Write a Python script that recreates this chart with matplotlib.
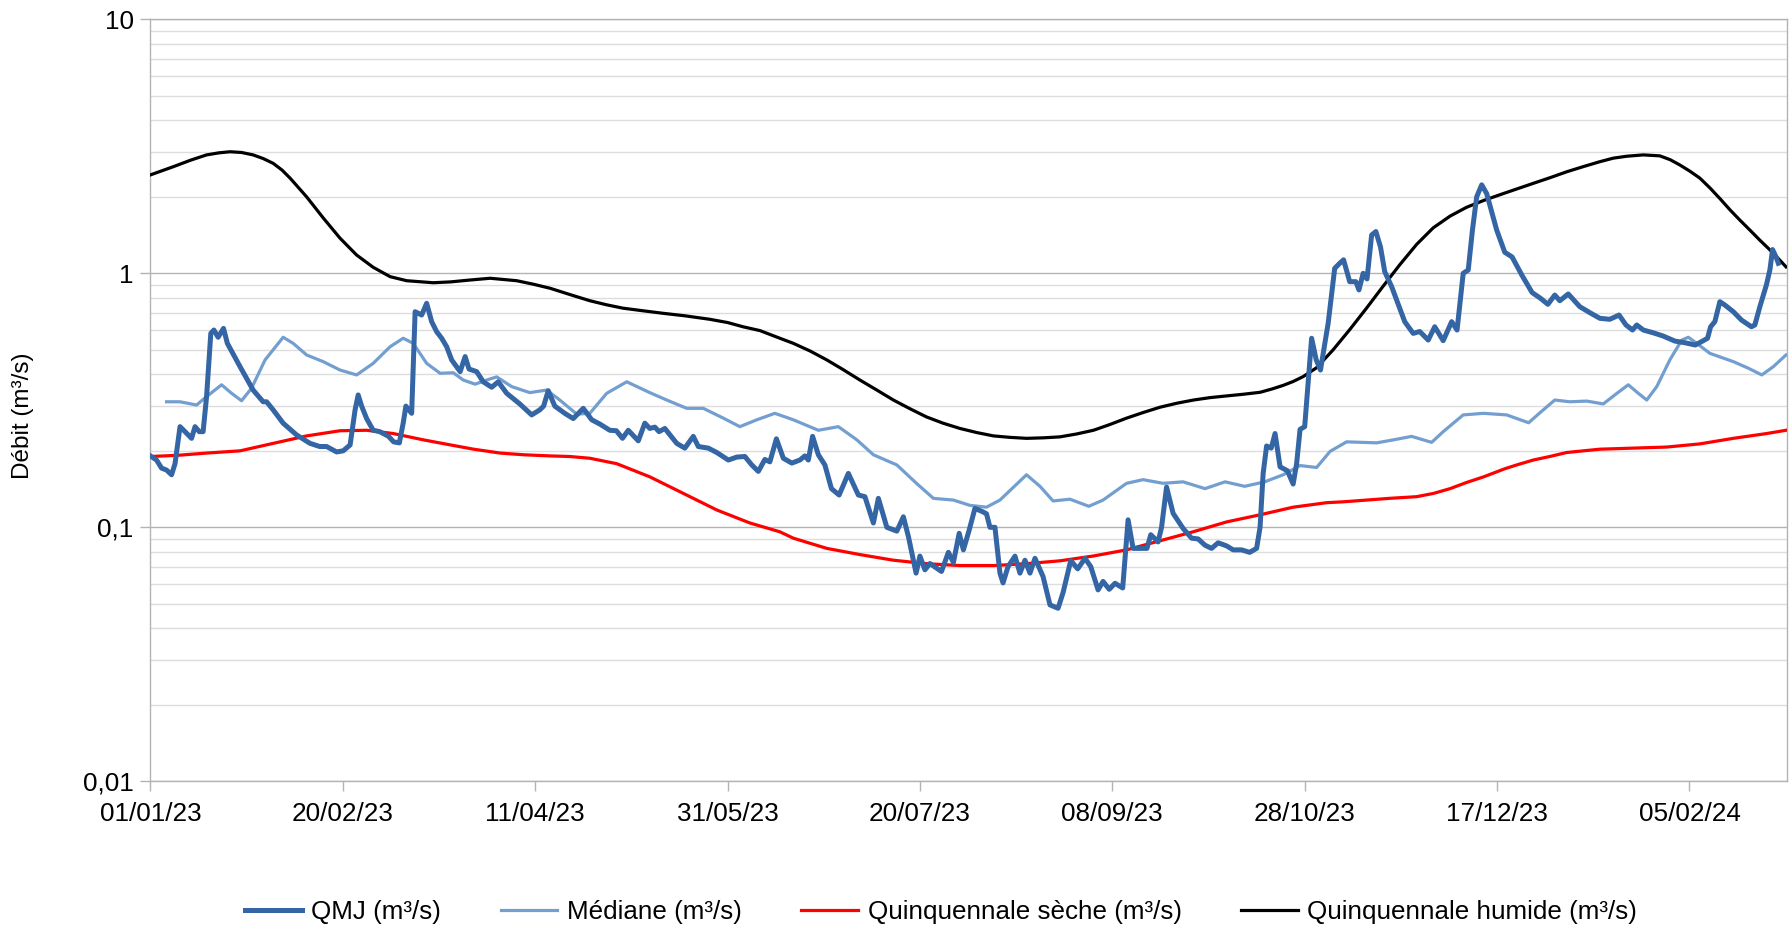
import datetime as dt
import numpy as np
import matplotlib
matplotlib.use("Agg")
import matplotlib.pyplot as plt
import matplotlib.dates as mdates
from matplotlib.ticker import FixedLocator, FuncFormatter, LogLocator, NullFormatter

plt.rcParams['font.family'] = ['Liberation Sans', 'DejaVu Sans']

START = dt.datetime(2023, 1, 1)

# ---- data (days since 01/01/23, values in m3/s) ----
qmj_days = [0.0, 1.6, 2.9, 4.2, 5.5, 6.4, 7.7, 9.0, 10.7, 11.6, 12.7, 13.7, 14.6, 15.7, 16.5, 17.6, 19.0, 20.0,
            23.3, 26.7, 29.3, 30.2, 31.9, 34.5, 38.0, 41.5, 44.0, 45.8, 48.4, 50.1, 51.9, 53.2, 54.0, 54.9,
            56.2, 57.9, 59.6, 61.9, 63.2, 64.7, 65.7, 66.4, 67.9, 68.8, 70.5, 71.8, 73.1, 74.4, 75.7, 77.0,
            78.3, 80.5, 81.8, 82.8, 84.8, 86.5, 88.7, 90.4, 92.6, 96.0, 99.1, 101.2, 102.2, 103.4, 105.1,
            107.7, 109.9, 112.5, 114.7, 116.8, 119.4, 121.1, 122.7, 124.2, 126.8, 128.5, 129.8, 131.1, 132.2,
            133.7, 136.8, 138.9, 141.1, 142.4, 145.0, 147.2, 150.2, 152.4, 154.5, 156.3, 158.0, 159.7, 161.0,
            162.7, 164.5, 166.7, 168.8, 170.1, 171.0, 172.1, 173.6, 175.3, 177.0, 179.0, 181.4, 184.0, 185.7,
            187.9, 189.2, 191.4, 194.0, 195.7, 197.0, 199.0, 200.0, 201.3, 202.6, 205.6, 207.4, 208.7, 210.2,
            211.3, 212.8, 214.3, 216.4, 217.3, 218.2, 219.5, 220.8, 221.6, 222.9, 224.7, 226.0, 227.3, 228.6,
            229.9, 232.0, 233.8, 235.9, 237.2, 239.2, 241.0, 242.9, 244.4, 246.3, 247.6, 249.2, 250.7, 252.7,
            254.1, 255.4, 257.6, 259.0, 260.0, 261.9, 262.8, 264.1, 265.8, 268.4, 270.6, 272.3, 274.1, 275.8,
            277.5, 279.7, 281.4, 283.6, 285.7, 287.5, 288.4, 289.2, 290.1, 291.3, 292.3, 293.6, 295.5, 297.0,
            297.9, 298.8, 300.0, 301.8, 303.0, 304.1, 306.1, 307.8, 309.1, 310.1, 311.7, 313.3, 314.1, 315.2,
            316.2, 317.4, 318.5, 319.7, 320.8, 322.6, 326.0, 328.2, 329.9, 332.1, 333.8, 336.0, 338.2, 339.6,
            341.2, 342.5, 343.6, 344.7, 346.0, 347.3, 349.9, 352.0, 353.9, 356.5, 359.1, 361.3, 363.2, 365.0,
            366.3, 368.5, 371.5, 374.1, 376.7, 379.3, 381.7, 383.5, 385.2, 386.3, 388.0, 390.6, 393.2, 396.2,
            398.8, 401.5, 403.6, 404.7, 405.5, 406.6, 407.9, 409.2, 411.4, 413.5, 416.1, 417.0, 418.3, 420.0,
            420.9, 421.6, 422.5, 423.1]
qmj_vals = [0.191, 0.184, 0.171, 0.168, 0.161, 0.178, 0.249, 0.238, 0.224, 0.249, 0.238, 0.238, 0.327, 0.58, 0.598,
            0.56, 0.607, 0.53, 0.429, 0.347, 0.312, 0.312, 0.29, 0.257, 0.231, 0.214, 0.208, 0.208, 0.198, 0.200,
            0.211, 0.29, 0.332, 0.30, 0.268, 0.241, 0.238, 0.228, 0.217, 0.215, 0.257, 0.30, 0.281, 0.706, 0.685,
            0.762, 0.645, 0.589, 0.555, 0.514, 0.456, 0.41, 0.47, 0.42, 0.41, 0.374, 0.356, 0.374, 0.337, 0.306,
            0.277, 0.29, 0.30, 0.345, 0.30, 0.281, 0.268, 0.294, 0.265, 0.255, 0.241, 0.240, 0.224, 0.241, 0.219,
            0.257, 0.245, 0.248, 0.238, 0.245, 0.214, 0.205, 0.228, 0.208, 0.205, 0.197, 0.184, 0.189, 0.190,
            0.176, 0.166, 0.185, 0.181, 0.223, 0.187, 0.179, 0.184, 0.191, 0.184, 0.228, 0.193, 0.176, 0.142,
            0.134, 0.163, 0.134, 0.132, 0.104, 0.130, 0.100, 0.0966, 0.110, 0.092, 0.066, 0.077, 0.068, 0.072,
            0.067, 0.0797, 0.0727, 0.0947, 0.0815, 0.0975, 0.1187, 0.115, 0.113, 0.100, 0.100, 0.066, 0.0604,
            0.070, 0.077, 0.066, 0.0742, 0.066, 0.0755, 0.064, 0.0495, 0.048, 0.0553, 0.0740, 0.0686, 0.0755,
            0.070, 0.0567, 0.0612, 0.057, 0.0602, 0.0577, 0.107, 0.0826, 0.0826, 0.0826, 0.0935, 0.0876, 0.100,
            0.144, 0.1135, 0.099, 0.0906, 0.090, 0.085, 0.0826, 0.0869, 0.0845, 0.0815, 0.0815, 0.0797, 0.0826,
            0.100, 0.163, 0.209, 0.205, 0.234, 0.173, 0.167, 0.148, 0.178, 0.243, 0.249, 0.555, 0.456, 0.416,
            0.636, 1.046, 1.095, 1.13, 0.927, 0.927, 0.86, 1.00, 0.95, 1.415, 1.46, 1.27, 1.015, 0.886, 0.645,
            0.58, 0.59, 0.546, 0.616, 0.543, 0.645, 0.598, 1.00, 1.03, 1.48, 2.00, 2.23, 2.06, 1.48, 1.21, 1.16,
            0.98, 0.84, 0.797, 0.755, 0.821, 0.78, 0.829, 0.739, 0.70, 0.665, 0.659, 0.685, 0.626, 0.598, 0.626,
            0.598, 0.583, 0.566, 0.541, 0.533, 0.522, 0.543, 0.555, 0.616, 0.645, 0.773, 0.75, 0.706, 0.655,
            0.616, 0.626, 0.739, 0.90, 1.03, 1.24, 1.16, 1.095]

med_days = [4.2, 7.7, 12.0, 14.6, 18.5, 21.1, 23.7, 26.3, 29.8, 34.5, 37.1, 40.6, 44.9, 49.3, 53.6, 57.9, 62.3,
            65.7, 68.3, 71.8, 75.3, 78.7, 81.3, 84.4, 87.4, 90.0, 93.9, 98.6, 103.0, 106.4, 110.8, 114.2, 118.6,
            123.8, 129.8, 134.2, 139.4, 143.7, 148.9, 153.2, 157.6, 162.3, 167.1, 173.6, 178.8, 183.6, 187.9,
            194.0, 199.1, 203.5, 208.7, 213.0, 217.3, 220.8, 227.7, 231.2, 234.6, 239.0, 243.9, 247.6, 253.7,
            258.0, 263.2, 268.4, 274.1, 279.3, 284.4, 289.6, 294.4, 298.8, 303.1, 306.6, 310.9, 318.7, 323.1,
            327.8, 333.0, 336.0, 341.2, 346.5, 352.5, 358.2, 361.2, 365.0, 368.9, 373.3, 377.6, 380.6, 384.1,
            386.7, 388.9, 391.5, 394.9, 398.0, 399.7, 401.9, 405.3, 411.4, 415.3, 418.8, 421.8, 425.1]
med_vals = [0.312, 0.312, 0.303, 0.327, 0.364, 0.337, 0.315, 0.353, 0.456, 0.56, 0.53, 0.477, 0.449, 0.416, 0.398,
            0.442, 0.514, 0.555, 0.53, 0.442, 0.404, 0.406, 0.38, 0.366, 0.38, 0.391, 0.358, 0.339, 0.347, 0.317,
            0.279, 0.281, 0.337, 0.374, 0.339, 0.317, 0.294, 0.294, 0.269, 0.249, 0.265, 0.281, 0.265, 0.241,
            0.249, 0.221, 0.193, 0.176, 0.149, 0.130, 0.128, 0.122, 0.120, 0.128, 0.161, 0.145, 0.127, 0.129,
            0.121, 0.128, 0.149, 0.154, 0.149, 0.151, 0.142, 0.151, 0.145, 0.151, 0.161, 0.175, 0.172, 0.199,
            0.217, 0.215, 0.221, 0.228, 0.216, 0.238, 0.277, 0.281, 0.277, 0.258, 0.283, 0.317, 0.312, 0.314,
            0.306, 0.332, 0.364, 0.337, 0.317, 0.358, 0.456, 0.546, 0.56, 0.53, 0.484, 0.449, 0.423, 0.398,
            0.429, 0.477]

seche_days = [0.0, 7.0, 14.6, 23.3, 31.9, 40.6, 49.3, 56.2, 63.1, 70.9, 78.0, 84.0, 90.9, 97.0, 103.9, 109.0,
              114.2, 121.2, 129.8, 138.5, 147.2, 155.8, 163.6, 167.1, 175.8, 184.4, 193.1, 201.7, 210.4, 219.1,
              227.7, 236.4, 245.1, 253.7, 262.4, 271.1, 279.7, 288.4, 297.0, 305.7, 310.0, 316.1, 322.0, 329.1,
              333.5, 337.8, 342.0, 346.5, 352.0, 355.1, 359.4, 363.7, 368.1, 376.7, 385.4, 394.1, 402.7, 411.4,
              420.1, 425.1]
seche_vals = [0.190, 0.192, 0.196, 0.200, 0.214, 0.229, 0.240, 0.241, 0.234, 0.221, 0.211, 0.203, 0.196, 0.193,
              0.191, 0.190, 0.187, 0.178, 0.158, 0.136, 0.117, 0.104, 0.096, 0.0906, 0.0826, 0.0781, 0.0742,
              0.0719, 0.0707, 0.0707, 0.0719, 0.0738, 0.0771, 0.0815, 0.0885, 0.0961, 0.105, 0.112, 0.120,
              0.125, 0.126, 0.128, 0.130, 0.132, 0.136, 0.142, 0.150, 0.158, 0.170, 0.176, 0.184, 0.190, 0.197,
              0.203, 0.205, 0.207, 0.213, 0.224, 0.234, 0.241]

humide_days = [0.0, 6.0, 10.5, 14.6, 17.8, 20.7, 23.7, 26.7, 29.3, 31.9, 34.2, 36.3, 40.6, 45.0, 49.3, 53.6,
               57.9, 62.3, 66.6, 73.5, 78.0, 83.1, 88.3, 95.2, 99.5, 103.9, 109.0, 114.2, 118.5, 122.8, 128.0,
               133.2, 139.0, 145.4, 150.0, 154.0, 158.4, 163.6, 167.1, 171.5, 175.8, 180.0, 184.4, 188.8, 193.1,
               197.4, 201.7, 206.0, 210.4, 214.8, 219.1, 223.4, 227.7, 232.0, 236.4, 240.7, 245.1, 249.4, 253.7,
               258.0, 262.4, 266.8, 271.1, 275.4, 279.7, 284.0, 288.4, 291.4, 294.4, 297.0, 299.6, 303.1, 307.4,
               311.7, 316.1, 320.4, 324.7, 329.1, 333.4, 337.8, 342.1, 346.5, 350.8, 355.2, 359.4, 363.8, 368.1,
               372.4, 376.7, 380.2, 383.7, 388.0, 392.3, 395.0, 397.5, 400.0, 402.7, 405.3, 407.9, 410.5, 413.1,
               415.7, 418.3, 421.8, 425.1]
humide_vals = [2.44, 2.63, 2.79, 2.925, 2.98, 3.01, 2.99, 2.925, 2.83, 2.71, 2.55, 2.37, 2.00, 1.646, 1.374, 1.18,
               1.056, 0.97, 0.935, 0.918, 0.925, 0.941, 0.956, 0.935, 0.906, 0.873, 0.825, 0.78, 0.752, 0.729,
               0.712, 0.696, 0.680, 0.659, 0.640, 0.616, 0.595, 0.555, 0.53, 0.494, 0.456, 0.418, 0.38, 0.347,
               0.317, 0.293, 0.272, 0.257, 0.245, 0.236, 0.229, 0.226, 0.224, 0.225, 0.227, 0.233, 0.241, 0.254,
               0.269, 0.283, 0.297, 0.308, 0.317, 0.324, 0.329, 0.334, 0.340, 0.350, 0.362, 0.375, 0.392, 0.425,
               0.50, 0.60, 0.73, 0.89, 1.08, 1.30, 1.51, 1.68, 1.82, 1.935, 2.04, 2.15, 2.26, 2.38, 2.51, 2.63,
               2.75, 2.84, 2.89, 2.925, 2.90, 2.80, 2.67, 2.53, 2.37, 2.17, 1.97, 1.78, 1.62, 1.48, 1.35, 1.2,
               1.06]

labels = ["QMJ (m³/s)", "Médiane (m³/s)", "Quinquennale sèche (m³/s)", "Quinquennale humide (m³/s)"]
tick_days = [0, 50, 100, 150, 200, 250, 300, 350, 400]
x_end_day = 425.3


def to_dates(days):
    return [START + dt.timedelta(days=d) for d in days]


fig = plt.figure(figsize=(17.89, 9.25), dpi=100)
ax = fig.add_axes([150.4 / 1789, 1 - 781.3 / 925, (1786.8 - 150.4) / 1789, (781.3 - 19.3) / 925])

ax.plot(to_dates(qmj_days), qmj_vals, color='#3465a4', lw=3.6, solid_joinstyle='round', label=labels[0], zorder=5)
ax.plot(to_dates(med_days), med_vals, color='#729fcf', lw=2.3, solid_joinstyle='round', label=labels[1], zorder=4)
ax.plot(to_dates(seche_days), seche_vals, color='#ff0000', lw=2.3, solid_joinstyle='round', label=labels[2], zorder=3)
ax.plot(to_dates(humide_days), humide_vals, color='#000000', lw=2.3, solid_joinstyle='round', label=labels[3], zorder=3)

ax.set_yscale('log')
ax.set_ylim(0.01, 10)
ax.set_xlim(START, START + dt.timedelta(days=x_end_day))

ax.xaxis.set_major_locator(FixedLocator(mdates.date2num(to_dates(tick_days))))
ax.xaxis.set_major_formatter(mdates.DateFormatter('%d/%m/%y'))

ax.yaxis.set_major_locator(FixedLocator([0.01, 0.1, 1, 10]))
ax.yaxis.set_major_formatter(FuncFormatter(lambda v, p: {0.01: '0,01', 0.1: '0,1', 1: '1', 10: '10'}.get(round(v, 4), '')))
ax.yaxis.set_minor_locator(LogLocator(base=10, subs=np.arange(2, 10)))
ax.yaxis.set_minor_formatter(NullFormatter())

ax.grid(True, which='major', axis='y', color='#b3b3b3', lw=1.0)
ax.grid(True, which='minor', axis='y', color='#dddddd', lw=1.0)
ax.set_axisbelow(True)

for s in ax.spines.values():
    s.set_color('#b3b3b3')
    s.set_linewidth(1.0)

ax.tick_params(axis='x', which='major', length=7, width=1, color='#b3b3b3', direction='out', labelsize=18.8, pad=8)
ax.tick_params(axis='y', which='major', length=7, width=1, color='#b3b3b3', direction='out', labelsize=18.8, pad=5)
ax.tick_params(axis='y', which='minor', length=0)

fig.text(23 / 1789, 1 - 416 / 925, "Débit (m³/s)", rotation=90, ha='center', va='center', fontsize=17.5)

leg = fig.legend(loc='center left', bbox_to_anchor=(245 / 1789, 1 - 912.5 / 925), ncol=4, frameon=False,
                 fontsize=18.7, handlelength=2.19, handletextpad=0.37, columnspacing=2.28,
                 borderpad=0, borderaxespad=0)

fig.savefig('out.png', dpi=100)
